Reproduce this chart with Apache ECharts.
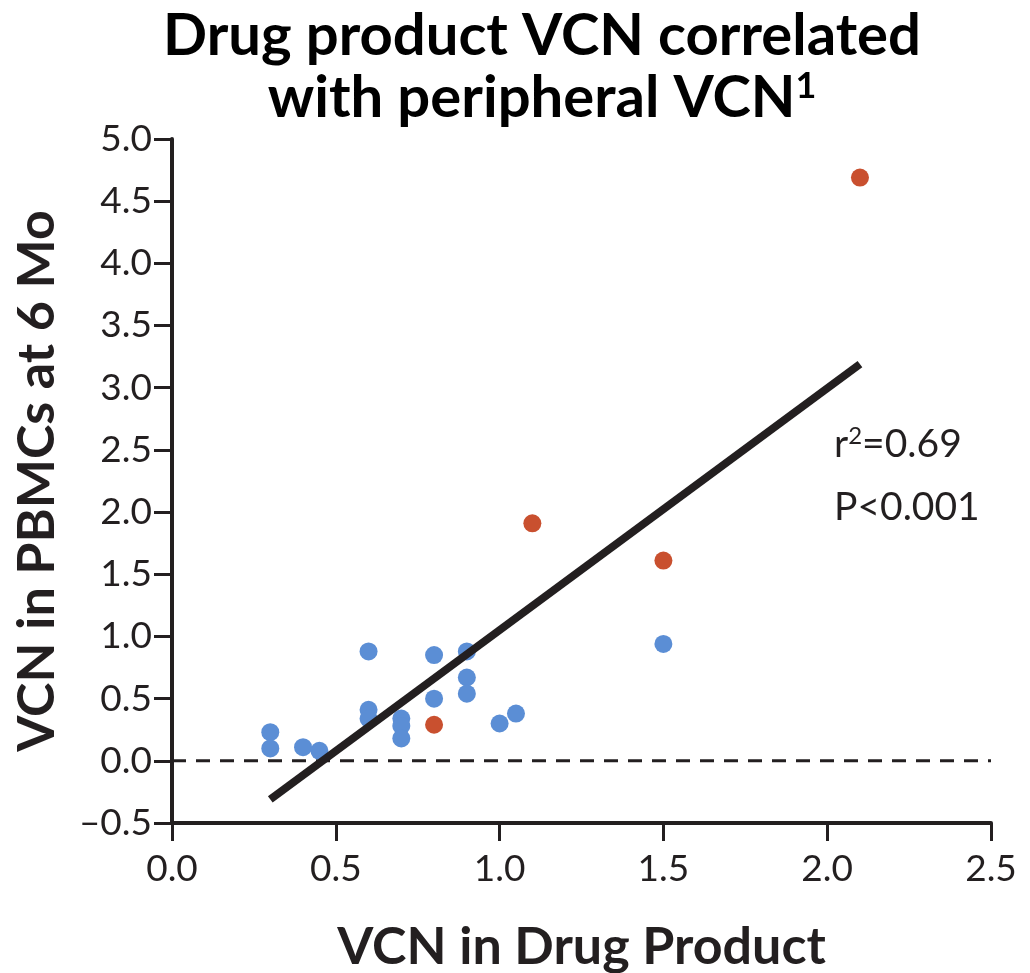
<!DOCTYPE html>
<html>
<head>
<meta charset="utf-8">
<script src="https://cdn.jsdelivr.net/npm/echarts@6/dist/echarts.min.js"></script>
<style>
  html, body { margin: 0; padding: 0; background: #fff; }
  #chart { width: 1030px; height: 973px; }
</style>
</head>
<body>
<div id="chart"></div>
<script>
// VCN in drug product (x) vs VCN in PBMCs at 6 months (y)
const blueX = [0.3, 0.3, 0.4, 0.45, 0.6, 0.6, 0.6, 0.7, 0.7, 0.7, 0.8, 0.8, 0.9, 0.9, 0.9, 1.0, 1.05, 1.5]
const blueY = [0.23, 0.10, 0.11, 0.08, 0.88, 0.41, 0.34, 0.34, 0.28, 0.18, 0.85, 0.50, 0.88, 0.67, 0.54, 0.30, 0.38, 0.94]
const redX = [0.8, 1.1, 1.5, 2.1]
const redY = [0.29, 1.91, 1.61, 4.69]
// fitted regression line end points
const fitX = [0.3, 2.1]
const fitY = [-0.31, 3.19]
// zero reference line
const zeroX = [0, 2.5]
const zeroY = [0, 0]

const ink = '#231f20'
const font = 'Lato'

const zip = (xs, ys) => xs.map((x, i) => [x, ys[i]])

const chart = echarts.init(document.getElementById('chart'))

const option = {
  backgroundColor: '#fff',
  animation: false,
  title: {
    text: 'Drug product VCN correlated\nwith peripheral VCN{sup|1}',
    left: 537,
    top: 0,
    textAlign: 'center',
    textStyle: {
      fontFamily: font,
      fontWeight: 'bold',
      fontSize: 58,
      lineHeight: 62,
      color: '#000',
      rich: {
        sup: {
          fontFamily: font,
          fontWeight: 'bold',
          fontSize: 36,
          color: '#000',
          padding: [0, 0, 24, 0]
        }
      }
    }
  },
  grid: {
    left: 172,
    right: 39,
    top: 139,
    bottom: 150,
    containLabel: false,
    outerBoundsMode: 'none'
  },
  xAxis: {
    type: 'value',
    min: 0,
    max: 2.5,
    interval: 0.5,
    name: 'VCN in Drug Product',
    nameLocation: 'middle',
    nameGap: 98,
    nameTextStyle: { fontFamily: font, fontWeight: 'bold', fontSize: 52, color: ink },
    axisLine: { show: true, onZero: false, lineStyle: { color: ink, width: 4 } },
    axisTick: { show: true, length: 18, lineStyle: { color: ink, width: 3 } },
    axisLabel: {
      fontFamily: font,
      fontSize: 37,
      color: ink,
      margin: 28,
      formatter: v => v.toFixed(1)
    },
    splitLine: { show: false }
  },
  yAxis: {
    type: 'value',
    min: -0.5,
    max: 5.0,
    interval: 0.5,
    name: 'VCN in PBMCs at 6 Mo',
    nameLocation: 'middle',
    nameGap: 109,
    nameRotate: 90,
    nameTextStyle: { fontFamily: font, fontWeight: 'bold', fontSize: 52, color: ink },
    axisLine: { show: true, onZero: false, lineStyle: { color: ink, width: 4 } },
    axisTick: { show: true, length: 18, lineStyle: { color: ink, width: 3 } },
    axisLabel: {
      fontFamily: font,
      fontSize: 37,
      color: ink,
      margin: 20,
      formatter: v => (v < 0 ? '\u2013' + Math.abs(v).toFixed(1) : v.toFixed(1))
    },
    splitLine: { show: false }
  },
  graphic: [
    {
      type: 'text',
      left: 834,
      top: 424,
      style: {
        text: 'r{sup|2}=0.69',
        fontFamily: font,
        fontSize: 39,
        fill: ink,
        rich: {
          sup: { fontFamily: font, fontSize: 24, fill: ink, padding: [0, 0, 16, 0] }
        }
      }
    },
    {
      type: 'text',
      left: 834,
      top: 488,
      style: {
        text: 'P<0.001',
        fontFamily: font,
        fontSize: 39,
        fill: ink
      }
    }
  ],
  series: [
    {
      name: 'zero',
      type: 'line',
      data: zip(zeroX, zeroY),
      symbol: 'none',
      silent: true,
      lineStyle: { color: ink, width: 3, type: [14, 10] },
      z: 1
    },
    {
      name: 'blue',
      type: 'scatter',
      data: zip(blueX, blueY),
      symbolSize: 18,
      itemStyle: { color: '#5b8ed5', opacity: 1 },
      z: 2
    },
    {
      name: 'red',
      type: 'scatter',
      data: zip(redX, redY),
      symbolSize: 18,
      itemStyle: { color: '#c9502f', opacity: 1 },
      z: 2
    },
    {
      name: 'fit',
      type: 'line',
      data: zip(fitX, fitY),
      symbol: 'none',
      lineStyle: { color: ink, width: 8 },
      z: 3
    }
  ]
}

chart.setOption(option)
</script>
</body>
</html>
